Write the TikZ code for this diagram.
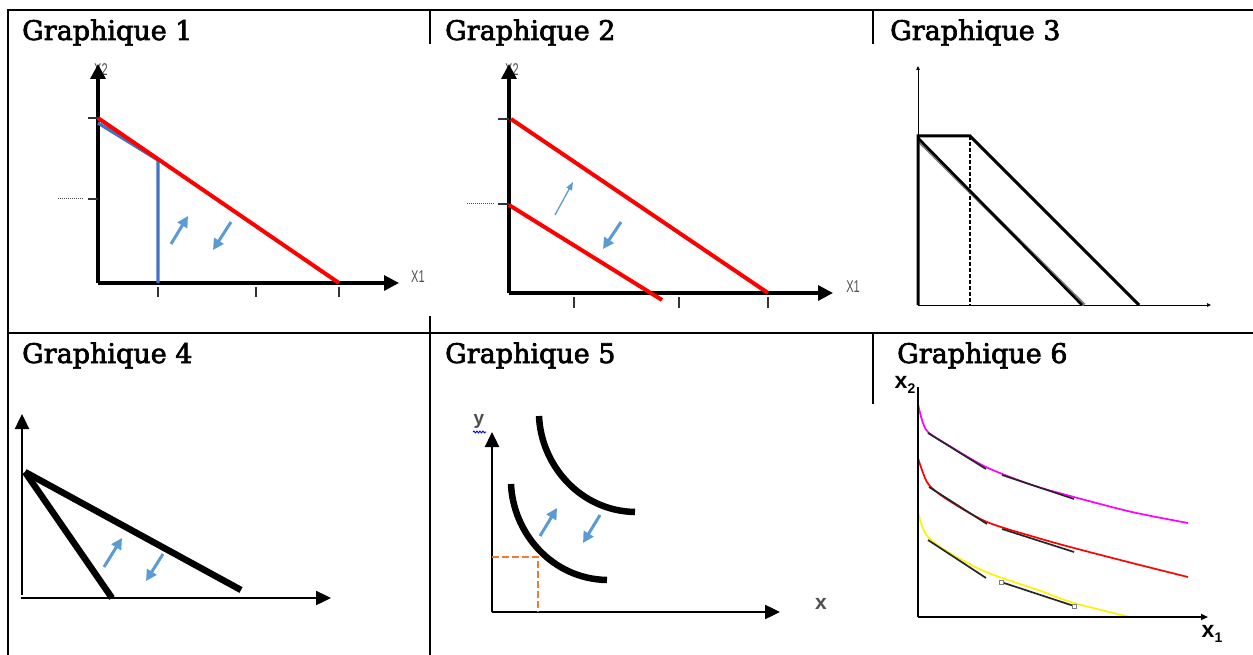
\documentclass[tikz,border=0pt]{standalone}
\usepackage{fontspec}
\setmainfont{DejaVu Serif}
\newfontfamily\ttlfont{DejaVu Serif}[FakeBold=2.5]
\newfontfamily\axfont{Liberation Sans}
\usetikzlibrary{arrows.meta,decorations.pathmorphing}
\definecolor{arrblue}{HTML}{5B9BD5}
\definecolor{lineblue}{HTML}{4472C4}
\definecolor{orng}{HTML}{ED7D31}
\definecolor{mag}{HTML}{FF00FF}
\definecolor{ylw}{HTML}{FFF200}
\definecolor{lblgray}{HTML}{505050}
\tikzset{
  tbl/.style={line width=2.2pt, black},
  ttl/.style={anchor=base west, inner sep=0pt, font=\ttlfont\fontsize{27}{27}\selectfont},
  bigaxis/.style={line width=3.3pt, -{Triangle[length=15pt,width=15pt]}},
  medaxis/.style={line width=2.4pt, -{Triangle[length=15pt,width=14pt]}},
  thinaxis/.style={line width=1pt, -{Triangle[length=4pt,width=3.5pt]}},
  tickmark/.style={line width=1.2pt, black!80},
  budget/.style={red, line width=4pt},
  barr/.style={arrblue, line width=3pt, -{Triangle[length=11pt,width=11pt]}},
  barrthin/.style={arrblue, line width=1.3pt, -{Triangle[length=8pt,width=6pt]}},
  axlbl/.style={lblgray, inner sep=0pt, font=\axfont\fontsize{17}{17}\selectfont},
  bldlbl/.style={inner sep=0pt, font=\axfont\bfseries\fontsize{23}{23}\selectfont},
  icurve/.style={line width=1.7pt},
  tang/.style={line width=1.7pt, black!85},
  heavy/.style={line width=6.5pt},
}
\begin{document}
\begin{tikzpicture}[x=1pt,y=-1pt]
\useasboundingbox (0,0) rectangle (1253,655);
\fill[white] (0,0) rectangle (1253,655);

% ---------- table lines ----------
\draw[tbl] (7,10) -- (1253,10);
\draw[tbl] (8,333) -- (1253,333);
\draw[tbl] (8,9) -- (8,655);
\draw[tbl] (430,10) -- (430,44);
\draw[tbl] (430,316) -- (430,655);
\draw[tbl] (873,10) -- (873,44);
\draw[tbl] (873,333) -- (873,404);

% ---------- titles ----------
\node[ttl] (t1) at (22,40) {Graphique 1};
\node[ttl] (t2) at (445,40) {Graphique 2};
\node[ttl] (t3) at (890,40) {Graphique 3};
\node[ttl] (t4) at (22,363) {Graphique 4};
\node[ttl] (t5) at (445,363) {Graphique 5};
\node[ttl] (t6) at (897,363) {Graphique 6};

% ---------- Graphique 1 ----------
\coordinate (o1) at (98,283);
\node[axlbl] (g1y) at (101,70) {\scalebox{0.65}[1]{X2}};
\node[axlbl] (g1x) at (418,277) {\scalebox{0.65}[1]{X1}};
\draw[bigaxis] (o1) -- (98,64);
\draw[bigaxis] (o1) -- (399,283);
\draw[tickmark] (88,118) -- (98,118);
\draw[tickmark] (88,199) -- (98,199);
\draw[black!70, line width=0.9pt, dash pattern=on 1pt off 1pt] (58,198) -- (84,198);
\foreach \xx in {158,256,339} \draw[tickmark] (\xx,287) -- (\xx,297);
\draw[lineblue, line width=3.3pt] (98,123) -- (158,160) -- (158,283);
\draw[budget] (98,118) -- (339,283);
\draw[barr] (171,244) -- (188,216);
\draw[barr] (231,222) -- (213,250);

% ---------- Graphique 2 ----------
\coordinate (o2) at (509,293);
\node[axlbl] (g2y) at (512,70) {\scalebox{0.65}[1]{X2}};
\node[axlbl] (g2x) at (853,287) {\scalebox{0.65}[1]{X1}};
\draw[bigaxis] (o2) -- (509,64);
\draw[bigaxis] (o2) -- (833,293);
\draw[tickmark] (498,119) -- (509,119);
\draw[tickmark] (498,204) -- (509,204);
\draw[black!70, line width=0.9pt, dash pattern=on 1pt off 1pt] (467,203) -- (495,203);
\foreach \xx in {574,679,768} \draw[tickmark] (\xx,297) -- (\xx,308);
\draw[budget] (511,119) -- (768,293);
\draw[budget] (509,205) -- (662,300);
\draw[barrthin] (555,215) -- (573,182);
\draw[barr] (621,222) -- (603,249);

% ---------- Graphique 3 ----------
\coordinate (o3) at (918,305);
\draw[thinaxis] (o3) -- (918,66);
\draw[thinaxis] (o3) -- (1211,305);
\draw[line width=1.4pt, dash pattern=on 4pt off 2pt] (970,136) -- (970,305);
\draw[gray, line width=3.6pt] (919,141) -- (1084,305);
\draw[line width=2.6pt] (918,138) -- (1082,305);
\draw[line width=3pt, line join=miter] (918,305) -- (918,136) -- (970,136) -- (1139,305);

% ---------- Graphique 4 ----------
\coordinate (o4) at (22,598);
\draw[medaxis] (22,595) -- (22,414);
\draw[medaxis] (21,598) -- (331,598);
\draw[heavy] (25,472) -- (241,590);
\draw[heavy] (25,472) -- (112,598);
\draw[barr] (104,567) -- (122,538);
\draw[barr] (163,554) -- (146,581);

% ---------- Graphique 5 ----------
\coordinate (o5) at (492,612);
\node[axlbl, font=\axfont\bfseries\fontsize{19}{19}\selectfont] (g5y) at (479,421) {y};
\draw[blue, line width=0.9pt, decorate, decoration={snake, amplitude=0.9pt, segment length=3pt}] (473,432) -- (486,432);
\node[axlbl, font=\axfont\bfseries\fontsize{21}{21}\selectfont] (g5x) at (821,604) {x};
\draw[medaxis] (o5) -- (492,432);
\draw[medaxis] (o5) -- (780,612);
\draw[orng, line width=1.5pt, dash pattern=on 7pt off 3pt] (492,557) -- (538,557) -- (538,612);
\draw[heavy] (539,416) .. controls (541,465) and (580,511) .. (635,512);
\draw[heavy] (511,484) .. controls (513,533) and (552,579) .. (607,580);
\draw[barr] (540,536) -- (557,508);
\draw[barr] (600,515) -- (583,543);

% ---------- Graphique 6 ----------
\coordinate (o6) at (918,617);
\node[bldlbl] (g6y) at (905,385) {x\raisebox{-0.35ex}{\fontsize{14}{14}\selectfont 2}};
\node[bldlbl] (g6x) at (1212,634) {x\raisebox{-0.35ex}{\fontsize{14}{14}\selectfont 1}};
\draw[mag, icurve] plot[smooth] coordinates {(918,404) (922,420) (928,432) (948,445) (986,467) (1032,485) (1074,497) (1132,512) (1188,523)};
\draw[red, icurve] plot[smooth] coordinates {(918,458) (922,470) (929,485) (948,500) (987,522) (1038,538) (1074,548) (1132,563) (1188,577)};
\draw[ylw, icurve] plot[smooth] coordinates {(918,511) (921,523) (928,537) (948,552) (986,572) (1038,590) (1074,603) (1130,617)};
\draw[tang] (928,433) -- (986,469);
\draw[tang] (1002,475) -- (1074,499);
\draw[tang] (929,487) -- (987,524);
\draw[tang] (1002,529) -- (1074,552);
\draw[tang] (928,540) -- (986,578);
\draw[tang] (1001,582) -- (1074,606);
\draw[gray, fill=white, line width=0.7pt] (999,580) rectangle (1003,584);
\draw[gray, fill=white, line width=0.7pt] (1072,604) rectangle (1076,608);
\draw[line width=2.4pt] (918,387) -- (o6);
\draw[line width=2.4pt, -{Triangle[length=7pt,width=6pt]}] (o6) -- (1208,617);
\end{tikzpicture}
\end{document}
